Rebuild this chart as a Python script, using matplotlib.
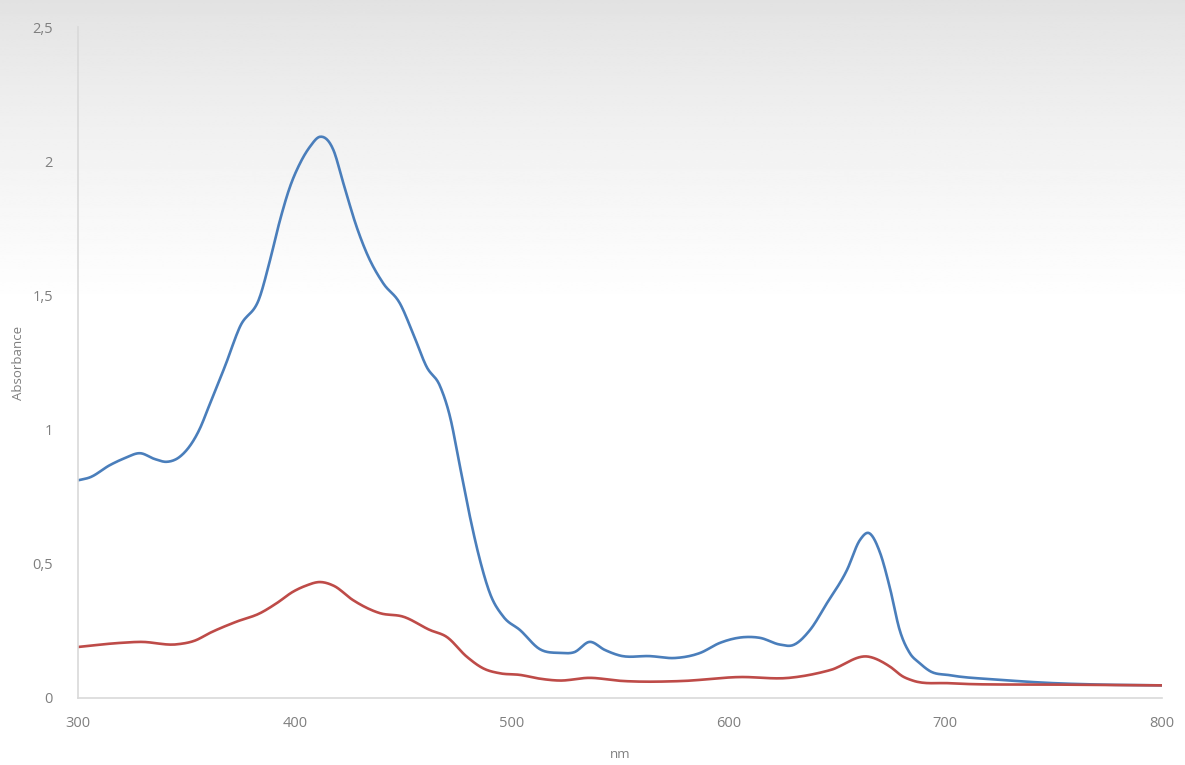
import numpy as np
import matplotlib
matplotlib.use("Agg")
import matplotlib.pyplot as plt
from matplotlib.ticker import FuncFormatter

# Absorption spectra (wavelength in nm, absorbance)
wl_blue = [300, 305.5, 314.8, 321.7, 328.6, 335.5, 341, 347, 356, 361, 368, 374.7, 383.9,
           388.6, 393.2, 397.8, 402.4, 407, 411.6, 417.8, 422.4, 428.5, 433.2, 440.8,
           448.5, 454.7, 460.8, 467, 471.6, 476.2, 480.8, 485.4, 490, 496.2, 503.9, 513,
           522.3, 529, 536, 543, 550, 563.8, 575.4, 587, 596, 607.7, 614.6, 623.8, 629.8,
           637.6, 645.5, 654.7, 660.7, 664.6, 670, 674.5, 679, 683.6, 688.2, 693, 702,
           725, 748, 771, 800]
abs_blue = [0.811, 0.822, 0.868, 0.894, 0.912, 0.89, 0.88, 0.899, 1.0, 1.099, 1.24, 1.383,
            1.495, 1.632, 1.781, 1.905, 1.992, 2.054, 2.091, 2.042, 1.918, 1.756, 1.657,
            1.545, 1.47, 1.355, 1.234, 1.162, 1.048, 0.862, 0.675, 0.514, 0.39, 0.303,
            0.253, 0.182, 0.168, 0.171, 0.209, 0.179, 0.158, 0.156, 0.149, 0.168, 0.205,
            0.227, 0.224, 0.199, 0.197, 0.253, 0.354, 0.477, 0.589, 0.615, 0.54, 0.41,
            0.253, 0.168, 0.13, 0.1, 0.085, 0.068, 0.056, 0.05, 0.047]

wl_red = [300, 319, 329, 345.7, 354, 361, 373, 384, 391.8, 399.2, 405, 411.6, 418, 426.8,
          439.3, 450, 462.4, 470, 479.3, 487, 494.6, 503.9, 513, 522, 536, 550, 578, 605,
          628, 647, 664.6, 674.5, 680.5, 685, 702, 750, 800]
abs_red = [0.19, 0.205, 0.209, 0.20, 0.214, 0.243, 0.284, 0.316, 0.354, 0.396, 0.418, 0.432,
           0.418, 0.365, 0.316, 0.303, 0.253, 0.228, 0.154, 0.11, 0.092, 0.086, 0.072,
           0.065, 0.075, 0.064, 0.063, 0.078, 0.075, 0.104, 0.154, 0.117, 0.08, 0.065,
           0.055, 0.05, 0.047]

x_ticks = [300, 400, 500, 600, 700, 800]
y_ticks = [0, 0.5, 1, 1.5, 2, 2.5]


def smooth(x, y, n=16):
    """Cubic Hermite curve through the points, slopes from neighbouring secants."""
    x = np.asarray(x, float)
    y = np.asarray(y, float)
    h = np.diff(x)
    d = np.diff(y) / h
    m = np.empty_like(y)
    m[0], m[-1] = d[0], d[-1]
    m[1:-1] = (h[:-1] * d[1:] + h[1:] * d[:-1]) / (h[:-1] + h[1:])
    t = np.linspace(0, 1, n, endpoint=False)
    xs, ys = [], []
    for i in range(len(x) - 1):
        h00 = 2 * t ** 3 - 3 * t ** 2 + 1
        h10 = t ** 3 - 2 * t ** 2 + t
        h01 = -2 * t ** 3 + 3 * t ** 2
        h11 = t ** 3 - t ** 2
        xs.append(x[i] + t * h[i])
        ys.append(h00 * y[i] + h10 * h[i] * m[i] + h01 * y[i + 1] + h11 * h[i] * m[i + 1])
    xs.append([x[-1]])
    ys.append([y[-1]])
    return np.concatenate(xs), np.concatenate(ys)


plt.rcParams["font.family"] = ["Open Sans", "DejaVu Sans"]

fig = plt.figure(figsize=(11.85, 7.65), dpi=100)

# soft grey fade at the top of the canvas
bg = fig.add_axes([0, 0, 1, 1], zorder=-10)
rows = np.linspace(0, 1, 400)
shade = np.where(rows < 0.4, 0.885 + 0.115 * (rows / 0.4) ** 0.8, 1.0)
bg.imshow(np.repeat(shade[:, None], 2, axis=1), cmap="gray", vmin=0, vmax=1,
          aspect="auto", extent=[0, 1, 1, 0], interpolation="bilinear")
bg.set_xlim(0, 1)
bg.set_ylim(1, 0)
bg.axis("off")

ax = fig.add_axes([0.0658, 0.0876, 0.9148, 0.8771])
ax.patch.set_alpha(0)

bx, by = smooth(wl_blue, abs_blue)
rx, ry = smooth(wl_red, abs_red)
ax.plot(bx, by, color="#4a7ebb", lw=1.9, solid_capstyle="round")
ax.plot(rx, ry, color="#be4b48", lw=1.9, solid_capstyle="round")

ax.set_xlim(300, 800)
ax.set_ylim(0, 2.5)
ax.set_xticks(x_ticks)
ax.set_yticks(y_ticks)
ax.yaxis.set_major_formatter(FuncFormatter(lambda v, p: f"{v:g}".replace(".", ",")))

for s in ("top", "right"):
    ax.spines[s].set_visible(False)
for s in ("left", "bottom"):
    ax.spines[s].set_color("#d9d9d9")
    ax.spines[s].set_linewidth(1.2)

ax.tick_params(axis="both", length=0, colors="#7f7f7f", labelsize=10.5)
ax.tick_params(axis="y", pad=18)
ax.tick_params(axis="x", pad=13)

ax.set_xlabel("nm", color="#7f7f7f", fontsize=9.5)
ax.set_ylabel("Absorbance", color="#7f7f7f", fontsize=9.5)
ax.xaxis.set_label_coords((620 - 78) / 1084, -(755 - 698) / 671)
ax.yaxis.set_label_coords((19 - 78) / 1084, (698 - 363) / 671)
ax.xaxis.label.set_va("center")
ax.yaxis.label.set_va("center")

fig.savefig("out.png", dpi=100)
